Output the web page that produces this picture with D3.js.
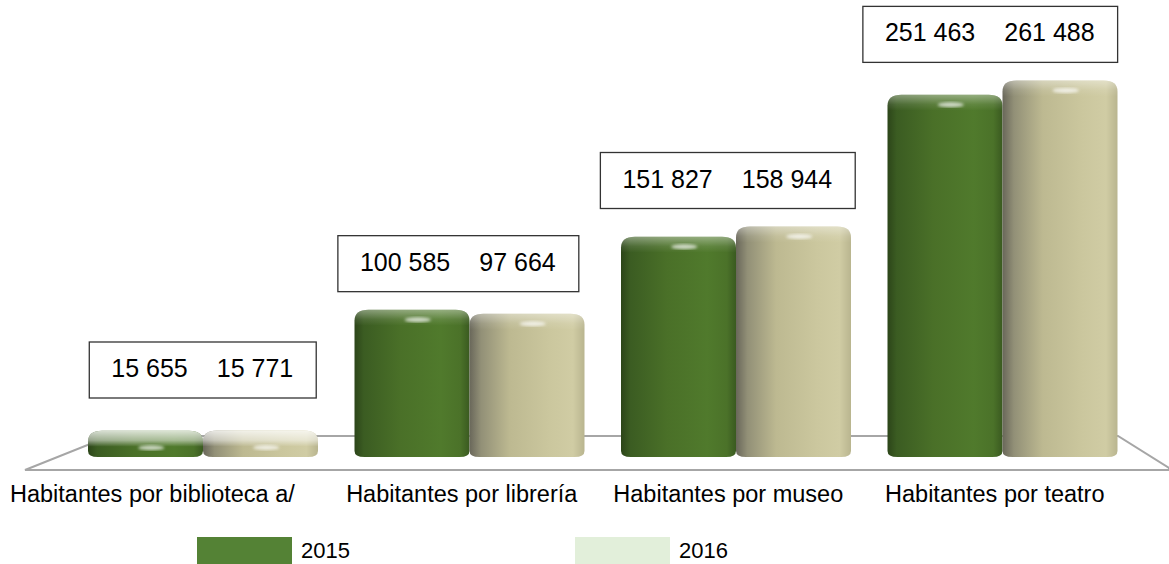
<!DOCTYPE html>
<html>
<head>
<meta charset="utf-8">
<script src="https://cdn.jsdelivr.net/npm/d3@7"></script>
<style>
  body { margin: 0; background: #fff; }
  text { font-family: "Liberation Sans", Arial, sans-serif; fill: #000; }
</style>
</head>
<body>
<div id="chart"></div>
<script>
// Chart data
const categories = ["Habitantes por biblioteca a/", "Habitantes por librería", "Habitantes por museo", "Habitantes por teatro"];
const series = ["2015", "2016"];
const values2015 = [15655, 100585, 151827, 251463];
const values2016 = [15771, 97664, 158944, 261488];

const width = 1169, height = 564;

const locale = d3.formatLocale({decimal: ",", thousands: " ", grouping: [3], currency: ["", ""]});
const fmt = locale.format(",d");

const svg = d3.select("#chart").append("svg")
    .attr("width", width)
    .attr("height", height);

const defs = svg.append("defs");

// Scales
const x0 = d3.scaleBand().domain(categories).range([70, 1136]);
const x1 = d3.scaleBand().domain(series).range([18, 248]);
const xLabel = d3.scaleBand().domain(categories).range([71, 1121]);
const y = d3.scaleLinear().domain([0, 300000]).range([453, 25.5]);
const baseY = y(0) + 4;

// side shading of the cylinders
const shades = {
  "2015": [[0, "#2c4519"], [0.08, "#3b5c22"], [0.4, "#4a7028"], [0.75, "#507a2c"], [0.92, "#4b7229"], [1, "#3a5a20"]],
  "2016": [[0, "#69675a"], [0.1, "#929077"], [0.35, "#bdb991"], [0.7, "#cbc79e"], [0.9, "#d0cca4"], [1, "#b9b58f"]]
};
series.forEach(s => {
  const g = defs.append("linearGradient").attr("id", "side" + s)
      .attr("x1", 0).attr("x2", 1).attr("y1", 0).attr("y2", 0);
  shades[s].forEach(st => g.append("stop").attr("offset", st[0]).attr("stop-color", st[1]));
});
defs.append("filter").attr("id", "blur").append("feGaussianBlur").attr("stdDeviation", 1.5);

// Floor
svg.append("path")
    .attr("d", "M25,470 L110,436 L1118,436 L1169,468 L1169,470 Z")
    .attr("fill", "#fff")
    .attr("stroke", "#a6a6a6")
    .attr("stroke-width", 2);

const data = categories.map((c, i) => ({
  category: c,
  bars: [
    {series: "2015", value: values2015[i]},
    {series: "2016", value: values2016[i]}
  ]
}));

function cylPath(xa, xb, yt, yb) {
  const rx = 14, ry = 11, rx2 = 10, ry2 = 6;
  return `M${xa},${yt + ry} Q${xa},${yt} ${xa + rx},${yt} L${xb - rx},${yt} Q${xb},${yt} ${xb},${yt + ry}` +
         ` L${xb},${yb - ry2} Q${xb},${yb} ${xb - rx2},${yb} L${xa + rx2},${yb} Q${xa},${yb} ${xa},${yb - ry2} Z`;
}

const groups = svg.selectAll(".group")
    .data(data)
  .enter().append("g")
    .attr("class", "group")
    .attr("transform", d => `translate(${x0(d.category)},0)`);

groups.selectAll(".bar")
    .data(d => d.bars.map(b => Object.assign({category: d.category}, b)))
  .enter().append("g")
    .attr("class", "bar")
    .each(function(d) {
      const g = d3.select(this);
      const xa = x1(d.series), xb = xa + x1.bandwidth();
      const yt = y(d.value);
      const short = baseY - yt < 40;
      g.append("path").attr("d", cylPath(xa, xb, yt, baseY)).attr("fill", `url(#side${d.series})`);
      // top shading (flat discs show more of their top face)
      const gid = "top" + categories.indexOf(d.category) + d.series;
      const tg = defs.append("linearGradient").attr("id", gid)
          .attr("gradientUnits", "userSpaceOnUse")
          .attr("x1", 0).attr("x2", 0).attr("y1", yt).attr("y2", yt + 16);
      tg.append("stop").attr("offset", 0).attr("stop-color", "#fff").attr("stop-opacity", short ? 0.8 : 0.4);
      tg.append("stop").attr("offset", 0.6).attr("stop-color", "#fff").attr("stop-opacity", short ? 0.5 : 0.1);
      tg.append("stop").attr("offset", 1).attr("stop-color", "#fff").attr("stop-opacity", 0);
      g.append("path").attr("d", cylPath(xa, xb, yt, baseY)).attr("fill", `url(#${gid})`);
      // highlight
      g.append("ellipse")
          .attr("cx", xa + x1.bandwidth() * 0.55)
          .attr("cy", short ? yt + 17 : yt + 10)
          .attr("rx", 13).attr("ry", 2.5)
          .attr("fill", "#fff").attr("opacity", 0.7)
          .attr("filter", "url(#blur)");
    });

// Value label boxes
const gap = 29;
data.forEach(d => {
  const cx = xLabel(d.category) + xLabel.bandwidth() / 2;
  const top = Math.min(y(d3.max(d.bars, b => b.value)) - 18, 398);
  const g = svg.append("g");
  const box = g.append("rect");
  const t1 = g.append("text")
      .attr("x", cx - gap / 2).attr("y", top - 21)
      .attr("text-anchor", "end").attr("font-size", 25)
      .text(fmt(d.bars[0].value));
  const t2 = g.append("text")
      .attr("x", cx + gap / 2).attr("y", top - 21)
      .attr("text-anchor", "start").attr("font-size", 25)
      .text(fmt(d.bars[1].value));
  const b1 = t1.node().getBBox(), b2 = t2.node().getBBox();
  box.attr("x", b1.x - 22).attr("y", top - 56)
      .attr("width", (b2.x + b2.width + 23) - (b1.x - 22)).attr("height", 56)
      .attr("fill", "#fff").attr("stroke", "#333").attr("stroke-width", 1.3);
});

// Category labels
svg.selectAll(".cat")
    .data(categories)
  .enter().append("text")
    .attr("class", "cat")
    .attr("font-size", 23.5)
    .attr("y", 502)
    .attr("x", (d, i) => i === 0 ? 10 : x0(d) + x0.bandwidth() / 2 - 8)
    .attr("text-anchor", (d, i) => i === 0 ? "start" : "middle")
    .text(d => d);

// Legend
const legendColors = ["#548235", "#e2efda"];
const legendX = d3.scaleOrdinal().domain(series).range([197, 575]);
const legend = svg.selectAll(".legend")
    .data(series)
  .enter().append("g")
    .attr("class", "legend")
    .attr("transform", d => `translate(${legendX(d)},537)`);
legend.append("rect")
    .attr("width", 95).attr("height", 27)
    .attr("fill", (d, i) => legendColors[i]);
legend.append("text")
    .attr("x", 104).attr("y", 21)
    .attr("font-size", 22)
    .text(d => d);
</script>
</body>
</html>
